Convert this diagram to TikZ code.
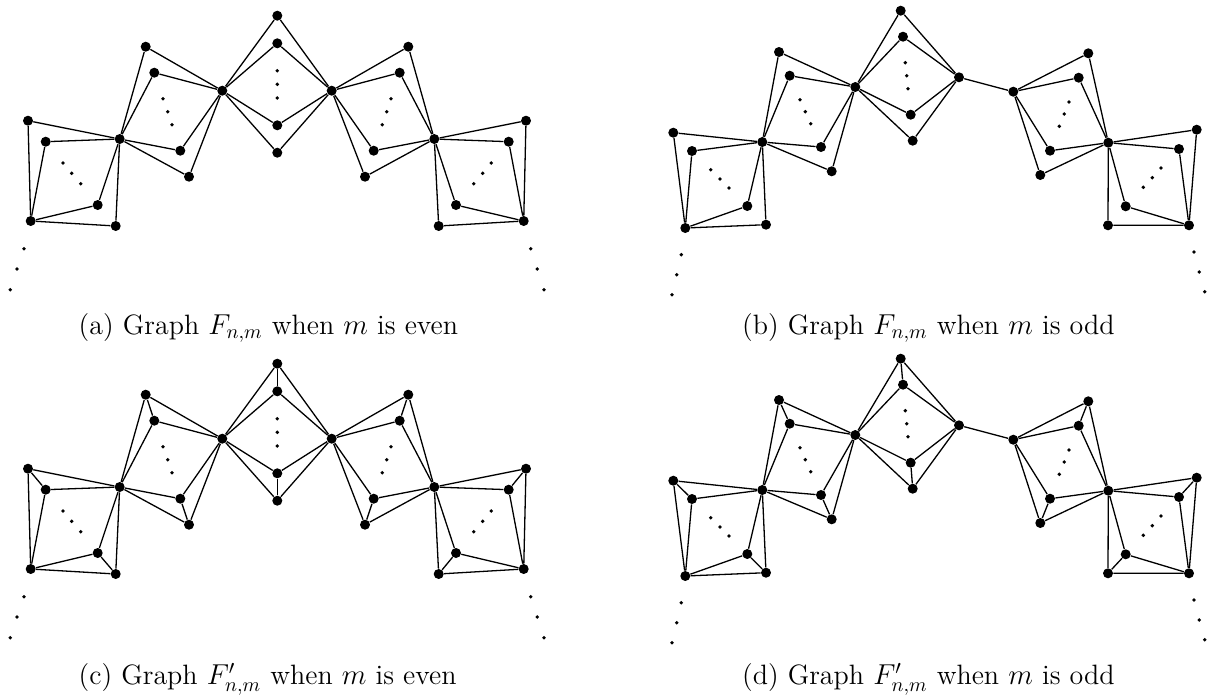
\documentclass[tikz,border=0pt]{standalone}
\tikzset{
  vtx/.style={circle,fill=black,inner sep=0pt,minimum size=5pt},
  edge/.style={line width=0.65pt},
  caplabel/.style={anchor=base west,inner sep=0pt,font=\fontsize{14}{17}\selectfont}
}
\newcommand{\sdot}[1]{\fill (#1) circle (0.95pt);}
% ---------- graph for m even ----------
\newcommand{\graphEven}[2]{%
 \node[vtx] (#1h0) at (30.7,221) {};
 \node[vtx] (#1h1) at (119.7,139) {};
 \node[vtx] (#1h2) at (222.3,90.7) {};
 \node[vtx] (#1h3) at (331.7,90.7) {};
 \node[vtx] (#1h4) at (434.3,139) {};
 \node[vtx] (#1h5) at (523.7,221) {};
 \node[vtx] (#1P1) at (28,120.7) {};
 \node[vtx] (#1p1) at (45.7,141.7) {};
 \node[vtx] (#1Q1) at (115.7,226) {};
 \node[vtx] (#1q1) at (97.7,205) {};
 \node[vtx] (#1P2) at (145.7,46.7) {};
 \node[vtx] (#1p2) at (154.3,72.7) {};
 \node[vtx] (#1Q2) at (189,176.7) {};
 \node[vtx] (#1q2) at (180.3,150.7) {};
 \node[vtx] (#1P3) at (277.3,15.7) {};
 \node[vtx] (#1p3) at (277.3,43.3) {};
 \node[vtx] (#1Q3) at (277.3,152.7) {};
 \node[vtx] (#1q3) at (277.3,125.3) {};
 \node[vtx] (#1P4) at (408.3,46.7) {};
 \node[vtx] (#1p4) at (399.7,72.7) {};
 \node[vtx] (#1Q4) at (365,176.7) {};
 \node[vtx] (#1q4) at (373.7,150.7) {};
 \node[vtx] (#1P5) at (526,120.7) {};
 \node[vtx] (#1p5) at (508.7,141.7) {};
 \node[vtx] (#1Q5) at (438.7,226) {};
 \node[vtx] (#1q5) at (456,205) {};
 \foreach \bi/\bl/\br in {1/0/1,2/1/2,3/2/3,4/3/4,5/4/5}{
   \draw[edge] (#1h\bl) -- (#1P\bi) -- (#1h\br) -- (#1Q\bi) -- (#1h\bl);
   \draw[edge] (#1h\bl) -- (#1p\bi) -- (#1h\br) -- (#1q\bi) -- (#1h\bl);
   \ifnum#2=1
     \draw[edge] (#1P\bi) -- (#1p\bi);
     \draw[edge] (#1Q\bi) -- (#1q\bi);
   \fi
 }
 \sdot{63,163}\sdot{71.7,173.3}\sdot{80.7,183.7}
 \sdot{163,98.7}\sdot{167.7,111.7}\sdot{172,124.7}
 \sdot{277.3,70.7}\sdot{277.3,84.3}\sdot{277.3,98}
 \sdot{391,98.7}\sdot{386.7,111.7}\sdot{382.3,124.7}
 \sdot{491.3,163}\sdot{482.7,173.3}\sdot{473.7,183.7}
 \sdot{24,248.7}\sdot{17,269}\sdot{10.3,289.7}
 \sdot{530.7,248.7}\sdot{537.3,269}\sdot{544,289.7}
}
% ---------- graph for m odd ----------
\newcommand{\graphOdd}[2]{%
 \node[vtx] (#1h0) at (685.3,228) {};
 \node[vtx] (#1h1) at (762.3,142) {};
 \node[vtx] (#1h2) at (855.3,87) {};
 \node[vtx] (#1h3) at (959,77.3) {};
 \node[vtx] (#1h4) at (1013.3,91.7) {};
 \node[vtx] (#1h5) at (1108.3,142.7) {};
 \node[vtx] (#1h6) at (1189,225.3) {};
 \node[vtx] (#1P1) at (673.3,132.7) {};
 \node[vtx] (#1p1) at (692,151) {};
 \node[vtx] (#1Q1) at (766,224.7) {};
 \node[vtx] (#1q1) at (747.3,206) {};
 \node[vtx] (#1P2) at (779,52) {};
 \node[vtx] (#1p2) at (789.7,75.7) {};
 \node[vtx] (#1Q2) at (831.7,171.3) {};
 \node[vtx] (#1q2) at (821,147) {};
 \node[vtx] (#1P3) at (900.7,10.7) {};
 \node[vtx] (#1p3) at (903,36.7) {};
 \node[vtx] (#1Q3) at (912.7,140.7) {};
 \node[vtx] (#1q3) at (910.7,114.7) {};
 \node[vtx] (#1P4) at (1088.3,53.3) {};
 \node[vtx] (#1p4) at (1078.7,77.7) {};
 \node[vtx] (#1Q4) at (1040.3,175) {};
 \node[vtx] (#1q4) at (1050,150.7) {};
 \node[vtx] (#1P5) at (1196.7,129.7) {};
 \node[vtx] (#1p5) at (1179,149) {};
 \node[vtx] (#1Q5) at (1108,225.3) {};
 \node[vtx] (#1q5) at (1125.7,206.3) {};
 \foreach \bi/\bl/\br in {1/0/1,2/1/2,3/2/3,4/4/5,5/5/6}{
   \draw[edge] (#1h\bl) -- (#1P\bi) -- (#1h\br) -- (#1Q\bi) -- (#1h\bl);
   \draw[edge] (#1h\bl) -- (#1p\bi) -- (#1h\br) -- (#1q\bi) -- (#1h\bl);
   \ifnum#2=1
     \draw[edge] (#1P\bi) -- (#1p\bi);
     \draw[edge] (#1Q\bi) -- (#1q\bi);
   \fi
 }
 \draw[edge] (#1h3) -- (#1h4);
 \sdot{710.7,169.7}\sdot{720,179}\sdot{729,188}
 \sdot{800,99.7}\sdot{805.3,111.7}\sdot{810.7,123.7}
 \sdot{905.3,62.7}\sdot{906.7,75.7}\sdot{908,88.7}
 \sdot{1069,102}\sdot{1064.3,114}\sdot{1059.3,126.3}
 \sdot{1161,168}\sdot{1152.3,177.7}\sdot{1143.3,187.3}
 \sdot{681.3,254.7}\sdot{676.7,274.7}\sdot{672,294.7}
 \sdot{1194,252}\sdot{1199.3,272}\sdot{1204.7,291.7}
}
\begin{document}
\begin{tikzpicture}[x=0.5pt,y=-0.5pt]
  \useasboundingbox (0,0) rectangle (1210,697);
  \graphEven{a}{0}
  \graphOdd{b}{0}
  \begin{scope}[yshift=-174pt]
    \graphEven{c}{1}
    \graphOdd{d}{1}
  \end{scope}
  \node[caplabel] (capa) at (78.3,334.5) {(a) Graph $F_{n,m}$ when $m$ is even};
  \node[caplabel] (capb) at (741.7,334.5) {(b) Graph $F_{n,m}$ when $m$ is odd};
  \node[caplabel] (capc) at (78.3,684.5) {(c) Graph $F'_{n,m}$ when $m$ is even};
  \node[caplabel] (capd) at (741.7,684.5) {(d) Graph $F'_{n,m}$ when $m$ is odd};
\end{tikzpicture}
\end{document}
